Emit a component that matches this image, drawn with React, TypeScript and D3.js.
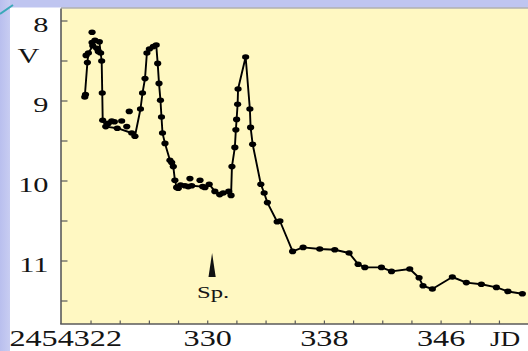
import React from "react";
import * as d3 from "d3";

// Light curve: Julian date (minus 2454000) and V magnitude
const lineJD = [
  321.57, 321.75, 321.82, 322.12, 322.27, 322.57, 322.66, 322.73, 322.77, 322.8,
  323.01, 323.8, 324.79, 325.01, 325.39, 325.53, 325.7, 325.83, 326.0, 326.27,
  326.47, 326.57, 326.66, 326.76, 326.83, 326.9, 327.07, 327.41, 327.53, 327.64,
  327.75, 327.87, 327.98, 328.14, 328.44, 328.66, 328.9, 329.65, 329.81, 330.1,
  330.49, 330.82, 331.06, 331.44, 331.6, 331.66, 331.86, 331.93, 331.98, 332.05,
  332.08, 332.6, 332.89, 332.94, 333.08, 333.64, 333.87, 334.09, 334.76, 334.95,
  335.82, 336.54, 337.68, 338.71, 339.69, 340.31, 340.77, 341.91, 342.6, 343.85,
  344.49, 344.76, 345.4, 346.77, 347.73, 348.76, 349.79, 350.58, 351.57,
];
const lineMag = [
  8.95, 8.52, 8.4, 8.31, 8.24, 8.26, 8.4, 8.5, 8.9, 9.24,
  9.32, 9.34, 9.4, 9.44, 9.1, 8.9, 8.72, 8.4, 8.35, 8.32,
  8.3, 8.53, 8.78, 8.99, 9.2, 9.4, 9.53, 9.74, 9.77, 9.82,
  9.99, 10.08, 10.09, 10.05, 10.06, 10.07, 10.06, 10.07, 10.08, 10.04,
  10.13, 10.17, 10.15, 10.13, 10.18, 9.82, 9.58, 9.36, 9.23, 9.04,
  8.85, 8.45, 9.1, 9.33, 9.54, 10.04, 10.15, 10.27, 10.51, 10.5,
  10.88, 10.83, 10.85, 10.86, 10.9, 11.04, 11.08, 11.08, 11.13, 11.1,
  11.21, 11.31, 11.35, 11.2, 11.27, 11.29, 11.33, 11.38, 11.41,
];

// Individual observations that are plotted but not joined by the line
const extraJD = [
  321.62, 321.66, 322.07, 322.07, 322.39, 322.5, 323.18, 323.42, 323.6, 324.1,
  324.45, 324.62, 328.78, 329.47,
];
const extraMag = [
  8.92, 8.43, 8.14, 8.27, 8.34, 8.38, 9.28, 9.25, 9.26, 9.25,
  9.32, 9.13, 9.97, 9.99,
];

// Date of the spectrum
const specJD = 330.3;
const specLabel = "Sp.";

const yTickValues = [8, 9, 10, 11];
const yMinorValues = [8.5, 9.5, 10.5, 11.5];
const xTickValues = [322, 324, 326, 328, 330, 332, 334, 336, 338, 340, 342, 344, 346, 348, 350];
const xLabelValues = [322, 330, 338, 346];
const xLabelText = ["2454322", "330", "338", "346"];

const W = 528;
const H = 351;
const SERIF = "'Liberation Serif', 'Times New Roman', serif";

export default function App() {
  const x = d3.scaleLinear().domain([319.9, 351.93]).range([60.4, 527.6]);
  const y = d3.scaleLinear().domain([8, 11]).range([21, 261]);

  const plotLeft = 61;
  const plotTop = 8.5;
  const plotBottom = 324;

  const pts = lineJD.map((d, i) => [d, lineMag[i]] as [number, number]);
  const line = d3
    .line<[number, number]>()
    .x((d) => x(d[0]))
    .y((d) => y(d[1]));

  const sx = x(specJD);

  return (
    <svg
      width={W}
      height={H}
      style={{ position: "fixed", left: 0, top: 0, background: "#fff" }}
      fontFamily={SERIF}
    >
      <defs>
        <linearGradient id="strip" x1="0" x2="1" y1="0" y2="0">
          <stop offset="0" stopColor="#b9bfee" />
          <stop offset="1" stopColor="#c8cdf2" />
        </linearGradient>
        <clipPath id="plotClip">
          <rect x={plotLeft} y={plotTop} width={W - plotLeft} height={plotBottom - plotTop} />
        </clipPath>
      </defs>

      {/* slide frame */}
      <rect x={0} y={0} width={W} height={H} fill="#fff" />
      <rect x={0} y={0} width={W} height={7.5} fill="#bfc5f0" />
      <rect x={0} y={0} width={10} height={H} fill="url(#strip)" />
      <line x1={0} y1={14} x2={13} y2={5} stroke="#3aa9b8" strokeWidth={2} />

      {/* plot area */}
      <rect x={plotLeft} y={plotTop} width={W - plotLeft} height={plotBottom - plotTop} fill="#fff8c2" />
      <line x1={plotLeft} y1={8} x2={W} y2={8} stroke="#8a8a8a" strokeWidth={1.2} />

      {/* axes */}
      <line x1={plotLeft} y1={plotTop} x2={plotLeft} y2={plotBottom} stroke="#5a5a5a" strokeWidth={1.6} />
      <line x1={plotLeft - 0.8} y1={plotBottom} x2={W} y2={plotBottom} stroke="#5a5a5a" strokeWidth={1.6} />
      {[...yTickValues, ...yMinorValues].map((v) => (
        <line key={"yt" + v} x1={plotLeft} x2={plotLeft + 6.5} y1={y(v)} y2={y(v)} stroke="#5a5a5a" strokeWidth={1.2} />
      ))}
      {xTickValues.map((v) => (
        <line key={"xt" + v} x1={x(v)} x2={x(v)} y1={plotBottom} y2={plotBottom - 3.5} stroke="#5a5a5a" strokeWidth={1.2} />
      ))}

      {/* y tick labels */}
      {yTickValues.map((v) => (
        <text
          key={"yl" + v}
          transform={`translate(48.5,${y(v) + 10.5}) scale(1.38,1)`}
          textAnchor="end"
          fontSize={22}
          fill="#141414"
        >
          {v}
        </text>
      ))}
      <text transform="translate(28.5,63) scale(1.38,1)" textAnchor="middle" fontSize={22} fill="#141414">
        V
      </text>

      {/* x tick labels */}
      {xLabelValues.map((v, i) => (
        <text
          key={"xl" + v}
          transform={`translate(${i === 0 ? x(v) + 31 : x(v)},346) scale(1.4,1)`}
          textAnchor={i === 0 ? "end" : "middle"}
          fontSize={23}
          fill="#141414"
        >
          {xLabelText[i]}
        </text>
      ))}
      <text transform="translate(490,346) scale(1.3,1)" textAnchor="start" fontSize={21} fill="#141414">
        JD
      </text>

      {/* spectrum marker */}
      <path d={`M${sx},253 L${sx + 3.6},277 L${sx - 3.6},277 Z`} fill="#111" />
      <text transform={`translate(${sx + 1},297.5) scale(1.45,1)`} textAnchor="middle" fontSize={17} fill="#141414">
        {specLabel}
      </text>

      {/* light curve */}
      <g clipPath="url(#plotClip)">
        <path d={line(pts) || ""} fill="none" stroke="#000" strokeWidth={1.9} strokeLinejoin="round" />
        {pts.map((p, i) => (
          <ellipse key={"p" + i} cx={x(p[0])} cy={y(p[1])} rx={3.6} ry={2.8} fill="#000" />
        ))}
        {extraJD.map((d, i) => (
          <ellipse key={"e" + i} cx={x(d)} cy={y(extraMag[i])} rx={3.6} ry={2.8} fill="#000" />
        ))}
      </g>
    </svg>
  );
}
